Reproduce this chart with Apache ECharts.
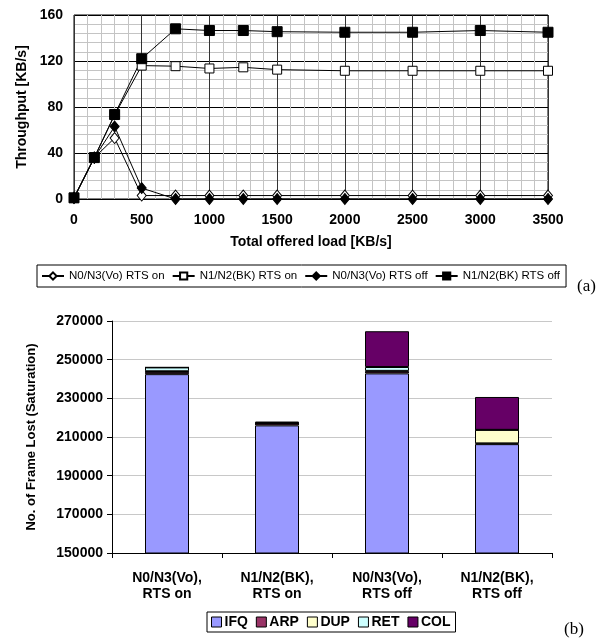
<!DOCTYPE html>
<html>
<head>
<meta charset="utf-8">
<script src="https://cdn.jsdelivr.net/npm/echarts@6/dist/echarts.min.js"></script>
<style>
  html, body { margin: 0; padding: 0; background: #fff; }
  #chart { width: 600px; height: 642px; }
</style>
</head>
<body>
<div id="chart"></div>
<script>
// (a) Throughput versus total offered load
const loads = [0, 150, 300, 500, 750, 1000, 1250, 1500, 2000, 2500, 3000, 3500];
const voRtsOn  = [1, 36, 53, 3, 3, 3, 3, 3, 3, 3, 3, 3];
const bkRtsOn  = [1, 36, 73, 116, 115.5, 113.5, 114.5, 112.5, 111.5, 111.5, 111.5, 111.5];
const voRtsOff = [1, 36, 63, 9.5, 0, 0, 0, 0, 0, 0, 0, 0];
const bkRtsOff = [1, 36, 73.5, 122, 148, 146.5, 146.5, 145.5, 145, 145, 146.5, 145];
const lineNames = ['N0/N3(Vo) RTS on', 'N1/N2(BK) RTS on', 'N0/N3(Vo) RTS off', 'N1/N2(BK) RTS off'];

// (b) Frames lost at saturation, by cause
const scenarios = ['N0/N3(Vo),\nRTS on', 'N1/N2(BK),\nRTS on', 'N0/N3(Vo),\nRTS off', 'N1/N2(BK),\nRTS off'];
const lossCauses = ['IFQ', 'ARP', 'DUP', 'RET', 'COL'];
const ifq = [242500, 216000, 242900, 206300];
const arp = [1200, 1000, 1000, 400];
const dup = [300, 100, 300, 7000];
const ret = [2000, 100, 2000, 0];
const col = [0, 800, 18500, 17000];

const FONT = '"Liberation Sans", Arial, sans-serif';
const pairs = vals => loads.map((x, i) => [x, vals[i]]);
const plain = v => String(v);

function lineSeries(name, vals, symbol, size, fill) {
  return {
    name, type: 'line', xAxisIndex: 0, yAxisIndex: 0,
    data: pairs(vals),
    symbol, symbolSize: size, showSymbol: true,
    lineStyle: { color: '#000', width: 1 },
    itemStyle: { color: fill, borderColor: '#000', borderWidth: 1 },
    emphasis: { disabled: true },
    animation: false
  };
}

function barSeries(name, vals, color) {
  return {
    name, type: 'bar', xAxisIndex: 1, yAxisIndex: 1, stack: 'loss',
    data: vals, barWidth: 44,
    itemStyle: { color, borderColor: '#000', borderWidth: 1 },
    emphasis: { disabled: true },
    animation: false
  };
}

const chart = echarts.init(document.getElementById('chart'), null, { renderer: 'canvas' });

chart.setOption({
  animation: false,
  backgroundColor: '#fff',
  textStyle: { fontFamily: FONT },
  grid: [
    { left: 74, right: 52, top: 15, bottom: 443, show: true, borderColor: '#000', borderWidth: 1, backgroundColor: '#fff' },
    { left: 112, right: 48, top: 321, bottom: 89 }
  ],
  xAxis: [
    {
      gridIndex: 0, type: 'value', min: 0, max: 3500, interval: 500,
      name: 'Total offered load [KB/s]', nameLocation: 'middle', nameGap: 36,
      nameTextStyle: { fontFamily: FONT, fontWeight: 'bold', fontSize: 14, color: '#000' },
      axisLine: { show: false }, axisTick: { show: false },
      axisLabel: { fontFamily: FONT, fontWeight: 'bold', fontSize: 14, color: '#000', margin: 14, formatter: plain },
      splitLine: { show: true, lineStyle: { color: '#333', width: 1 } },
      minorTick: { show: false, splitNumber: 5 },
      minorSplitLine: { show: true, lineStyle: { color: '#c4c4c4', width: 1 } }
    },
    {
      gridIndex: 1, type: 'category', data: scenarios,
      axisLine: { show: true, lineStyle: { color: '#000', width: 1 } },
      axisTick: { show: true, length: 5, lineStyle: { color: '#000' } },
      axisLabel: { fontFamily: FONT, fontWeight: 'bold', fontSize: 14, color: '#000', margin: 17, lineHeight: 16 },
      splitLine: { show: false }
    }
  ],
  yAxis: [
    {
      gridIndex: 0, type: 'value', min: 0, max: 160, interval: 40,
      name: 'Throughput [KB/s]', nameLocation: 'middle', nameGap: 45, nameRotate: 90,
      nameTextStyle: { fontFamily: FONT, fontWeight: 'bold', fontSize: 14, color: '#000' },
      axisLine: { show: false }, axisTick: { show: false },
      axisLabel: { fontFamily: FONT, fontWeight: 'bold', fontSize: 14, color: '#000', margin: 11, formatter: plain },
      splitLine: { show: true, lineStyle: { color: '#000', width: 1 } },
      minorTick: { show: false, splitNumber: 5 },
      minorSplitLine: { show: true, lineStyle: { color: '#c4c4c4', width: 1 } }
    },
    {
      gridIndex: 1, type: 'value', min: 150000, max: 270000, interval: 20000,
      name: 'No. of Frame Lost (Saturation)', nameLocation: 'middle', nameGap: 74, nameRotate: 90,
      nameTextStyle: { fontFamily: FONT, fontWeight: 'bold', fontSize: 13, color: '#000' },
      axisLine: { show: true, lineStyle: { color: '#000', width: 1 } },
      axisTick: { show: true, length: 5, lineStyle: { color: '#000' } },
      axisLabel: { fontFamily: FONT, fontWeight: 'bold', fontSize: 14, color: '#000', margin: 9, formatter: plain },
      splitLine: { show: true, lineStyle: { color: '#c8c8c8', width: 1 } }
    }
  ],
  legend: [
    {
      data: lineNames, left: 37, top: 265, orient: 'horizontal',
      itemWidth: 22, itemHeight: 9, itemGap: 7,
      padding: [5, 6, 5, 4],
      borderColor: '#000', borderWidth: 1,
      textStyle: { fontFamily: FONT, fontSize: 11.5, color: '#000' },
      selectedMode: false
    },
    {
      data: lossCauses, left: 207, top: 612, orient: 'horizontal',
      icon: 'rect', itemWidth: 10, itemHeight: 10, itemGap: 8,
      padding: [3, 5, 3, 4],
      borderColor: '#000', borderWidth: 1,
      itemStyle: { borderColor: '#000', borderWidth: 1 },
      textStyle: { fontFamily: FONT, fontSize: 14, fontWeight: 'bold', color: '#000', padding: [0, 0, 0, -2] },
      selectedMode: false
    }
  ],
  graphic: [
    { type: 'text', left: 577, top: 278, style: { text: '(a)', font: '17px "Liberation Serif", "Times New Roman", serif', fill: '#000' } },
    { type: 'text', left: 564, top: 621, style: { text: '(b)', font: '17px "Liberation Serif", "Times New Roman", serif', fill: '#000' } }
  ],
  series: [
    lineSeries(lineNames[0], voRtsOn, 'diamond', [9, 11], '#fff'),
    lineSeries(lineNames[1], bkRtsOn, 'rect', 9, '#fff'),
    lineSeries(lineNames[2], voRtsOff, 'diamond', [9, 11], '#000'),
    lineSeries(lineNames[3], bkRtsOff, 'rect', 10, '#000'),
    barSeries('IFQ', ifq, '#9999ff'),
    barSeries('ARP', arp, '#993366'),
    barSeries('DUP', dup, '#ffffcc'),
    barSeries('RET', ret, '#ccffff'),
    barSeries('COL', col, '#660066')
  ]
});
</script>
</body>
</html>
